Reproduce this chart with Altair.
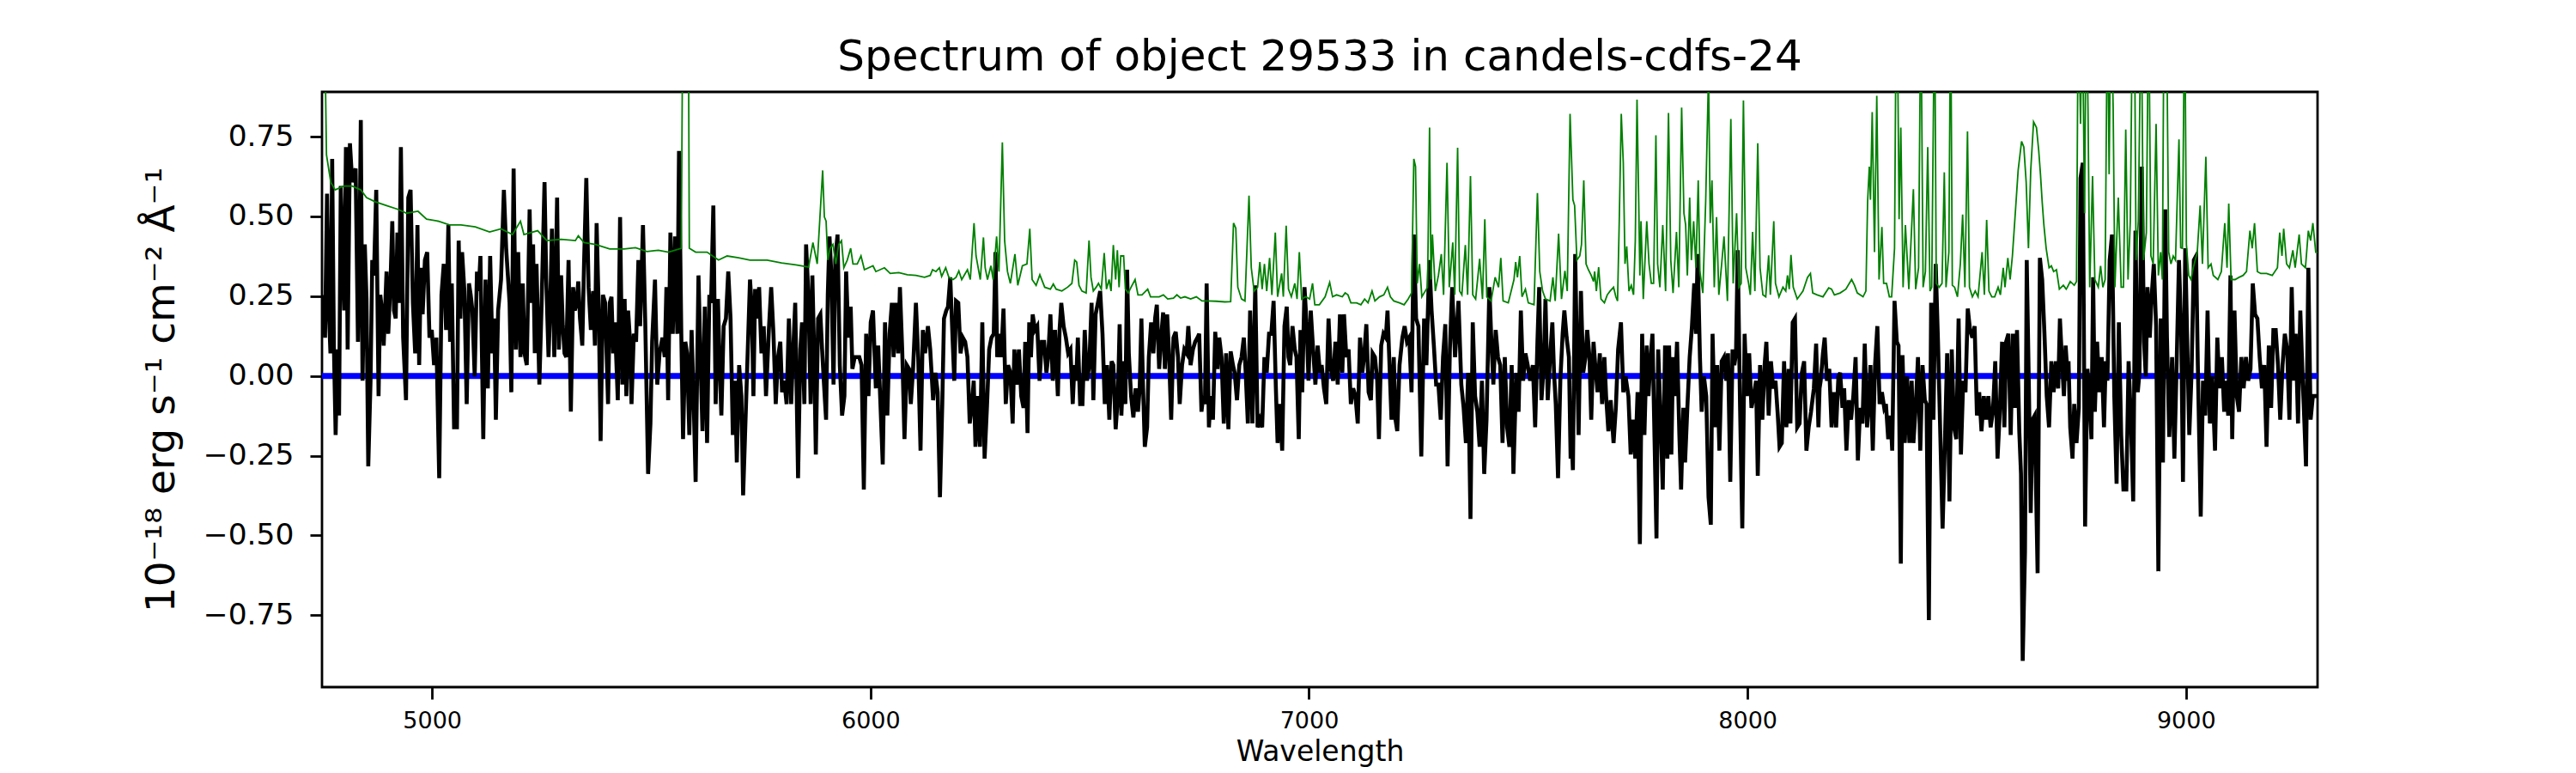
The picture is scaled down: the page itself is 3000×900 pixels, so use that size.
import altair as alt
import pandas as pd

# ---- data (wavelength in Angstrom, flux in 1e-18 erg/s/cm2/A) ----
spec_wave = [
    4751.3, 4755.9, 4760.5, 4764.4, 4768.3, 4772.2, 4776.1, 4780.1, 4784.0, 4787.9,
    4791.8, 4795.7, 4799.6, 4803.6, 4807.5, 4812.7, 4817.9, 4821.8, 4825.7, 4831.0,
    4834.9, 4837.5, 4841.4, 4846.6, 4850.5, 4854.5, 4859.7, 4863.6, 4867.5, 4872.7,
    4878.0, 4881.9, 4885.8, 4889.7, 4896.2, 4900.1, 4905.4, 4909.3, 4913.2, 4917.1,
    4921.0, 4925.0, 4928.9, 4934.1, 4940.6, 4945.8, 4951.0, 4956.3, 4961.5, 4966.7,
    4970.6, 4974.5, 4978.5, 4983.7, 4988.9, 4994.1, 4999.3, 5004.6, 5009.8, 5016.3,
    5021.5, 5026.7, 5032.0, 5037.2, 5041.1, 5045.0, 5050.2, 5056.8, 5060.7, 5064.6,
    5068.5, 5073.7, 5079.0, 5084.2, 5088.1, 5092.0, 5097.2, 5102.4, 5106.4, 5110.3,
    5116.8, 5122.0, 5127.2, 5132.5, 5137.7, 5141.6, 5145.5, 5150.7, 5157.3, 5163.8,
    5169.0, 5172.9, 5176.8, 5180.8, 5186.0, 5191.2, 5196.4, 5201.6, 5206.9, 5210.8,
    5216.0, 5222.5, 5226.4, 5230.4, 5234.3, 5238.2, 5244.7, 5249.9, 5256.5, 5260.4,
    5265.6, 5269.5, 5273.4, 5278.7, 5285.2, 5289.1, 5294.3, 5298.2, 5302.1, 5306.1,
    5311.3, 5316.5, 5321.7, 5325.6,
    5329.6, 5333.5, 5337.4, 5342.6, 5346.6, 5351.8, 5357.0, 5362.2, 5367.4, 5371.4,
    5375.3, 5380.5, 5384.4, 5389.6, 5394.8, 5401.4, 5405.3, 5409.2, 5413.1, 5417.0,
    5423.6, 5428.8, 5434.0, 5439.2, 5443.1, 5447.1, 5451.0, 5454.9, 5460.1, 5465.3,
    5470.6, 5474.5, 5481.0, 5486.2, 5492.7, 5498.0, 5501.9, 5508.4, 5513.6, 5518.8,
    5525.4, 5530.6, 5534.5, 5538.4, 5543.6, 5548.9, 5554.1, 5559.3, 5563.2, 5568.4,
    5572.4, 5577.6, 5581.5, 5586.7, 5591.9, 5597.2, 5601.1, 5607.6, 5612.8, 5616.7,
    5622.0, 5627.2, 5632.4, 5636.3, 5641.5, 5646.8, 5652.0, 5655.9, 5659.8, 5665.0,
    5670.2, 5675.5, 5680.7, 5685.9, 5691.1, 5695.0, 5700.3, 5705.5, 5709.4, 5717.2,
    5725.1, 5729.0, 5732.9, 5736.8, 5742.0, 5745.9, 5751.2, 5756.4, 5761.6, 5768.1,
    5773.4, 5778.6, 5783.8, 5789.0, 5794.2, 5798.2, 5803.4, 5808.6, 5813.8, 5819.0,
    5823.0, 5828.2, 5834.7, 5839.9, 5843.8, 5849.1, 5853.0, 5858.2, 5863.4, 5867.3,
    5871.2, 5875.2, 5880.4, 5885.6, 5889.5, 5893.4,
    5898.6, 5902.5, 5906.4, 5910.3, 5915.6, 5919.5, 5924.7, 5929.9, 5935.1, 5940.4,
    5944.3, 5949.5, 5954.7, 5958.6, 5963.9, 5969.1, 5974.3, 5979.5, 5984.7, 5990.0,
    5995.2, 6000.4, 6005.6, 6012.1, 6017.4, 6022.6, 6027.8, 6033.0, 6038.3, 6043.5,
    6048.7, 6052.6, 6057.8, 6063.0, 6067.0, 6072.2, 6077.4, 6082.6, 6087.8, 6091.8,
    6097.0, 6103.5, 6108.7, 6114.0, 6119.2, 6124.4, 6130.9, 6136.1, 6142.7, 6147.9,
    6153.1, 6158.3, 6163.6, 6167.5, 6172.7, 6176.6, 6181.8, 6187.0, 6191.0, 6194.9,
    6200.1, 6205.3, 6210.5, 6215.8, 6221.0, 6226.2, 6231.4, 6235.3, 6239.3, 6244.5,
    6249.7, 6254.9, 6260.1, 6265.4, 6270.6, 6275.8, 6281.0, 6284.9, 6288.9, 6292.8,
    6298.0, 6303.2, 6308.4, 6313.7, 6318.9, 6324.1, 6328.0, 6333.2, 6338.4, 6343.7,
    6348.9, 6352.8, 6358.0, 6361.9, 6365.8, 6369.8, 6375.0, 6380.2, 6385.4, 6390.7,
    6395.9, 6401.1, 6405.0, 6410.2, 6415.5, 6420.7, 6427.2, 6431.1, 6435.0, 6440.3,
    6445.5, 6450.7, 6455.9, 6461.1,
    6465.0, 6468.9, 6472.8, 6478.0, 6483.3, 6488.5, 6493.7, 6498.9, 6504.1, 6508.1,
    6513.3, 6518.5, 6523.7, 6529.0, 6534.2, 6539.4, 6544.6, 6549.8, 6553.7, 6559.0,
    6564.2, 6568.1, 6572.0, 6577.2, 6581.2, 6585.1, 6589.0, 6594.2, 6599.4, 6604.6,
    6609.9, 6613.8, 6617.7, 6621.6, 6625.5, 6630.7, 6634.7, 6639.9, 6645.1, 6649.0,
    6652.9, 6658.2, 6663.4, 6667.3, 6671.2, 6676.4, 6680.3, 6685.6, 6690.8, 6696.0,
    6701.2, 6705.1, 6710.4, 6715.6, 6720.8, 6724.7, 6729.9, 6735.2, 6740.4, 6745.6,
    6749.5, 6754.7, 6758.7, 6762.6, 6766.5, 6771.7, 6775.6, 6780.9, 6786.1, 6791.3,
    6795.2, 6800.4, 6805.6, 6810.9, 6816.1, 6821.3, 6826.5, 6830.4, 6835.7, 6840.9,
    6846.1, 6851.3, 6855.2, 6860.5, 6865.7, 6870.9, 6877.4, 6882.7, 6887.9, 6893.1,
    6898.3, 6903.5, 6908.8, 6914.0, 6919.2, 6924.4, 6928.3, 6933.6, 6938.8, 6944.0,
    6949.2, 6953.1, 6957.0, 6962.3, 6967.5, 6971.4, 6976.6, 6980.5, 6984.5, 6989.7,
    6994.9, 6998.8, 7004.0, 7009.3, 7014.5, 7019.7, 7024.9, 7028.8,
    7034.1, 7039.3, 7044.5, 7049.8, 7055.0, 7060.2, 7065.4, 7070.6, 7075.9, 7079.8,
    7085.0, 7090.2, 7095.4, 7100.7, 7105.9, 7111.1, 7116.3, 7121.5, 7125.5, 7130.7,
    7135.9, 7141.1, 7145.0, 7150.3, 7155.5, 7159.4, 7164.6, 7169.8, 7175.1, 7179.0,
    7182.9, 7188.1, 7193.3, 7197.2, 7201.2, 7206.4, 7212.9, 7218.1, 7223.4, 7228.6,
    7233.8, 7239.0, 7244.2, 7249.5, 7256.0, 7262.5, 7267.7, 7274.3, 7279.5, 7284.7,
    7289.9, 7295.1, 7300.4, 7305.6, 7310.8, 7316.0, 7321.2, 7326.5, 7333.0, 7340.8,
    7347.3, 7352.6, 7357.8, 7363.0, 7368.2, 7373.4, 7378.7, 7383.9, 7389.1, 7394.3,
    7399.5, 7404.8, 7411.3, 7415.2, 7420.4, 7425.7, 7430.9, 7436.1, 7441.3, 7446.5,
    7451.8, 7457.0, 7462.2, 7466.1, 7472.6, 7477.9, 7483.1, 7488.3, 7493.5, 7498.7,
    7504.0, 7510.5, 7515.7, 7520.9, 7524.9, 7530.1, 7535.3, 7539.2, 7544.4, 7549.7,
    7554.9, 7558.8, 7562.7, 7567.9, 7573.1, 7578.4, 7582.3, 7587.5, 7592.7, 7596.6,
    7597.9, 7601.8, 7607.0, 7610.9, 7614.8, 7620.1, 7625.3, 7630.5, 7634.4, 7639.6,
    7643.6, 7648.8, 7652.7, 7657.9, 7663.1, 7668.4, 7673.6, 7677.5, 7682.7, 7687.9,
    7694.5, 7699.7, 7704.9, 7711.4, 7716.7, 7721.9, 7728.4, 7733.6, 7738.8, 7744.1,
    7749.3, 7754.5, 7759.7, 7764.9, 7770.2, 7774.1, 7778.0, 7783.2, 7787.1, 7792.4,
    7796.3, 7801.5, 7806.7, 7812.0, 7817.2, 7821.1, 7826.3, 7830.2, 7834.1, 7839.3,
    7844.6, 7848.5, 7853.7, 7857.6, 7862.8, 7868.1, 7873.3, 7878.5, 7882.4, 7886.3,
    7891.5, 7895.5, 7900.7, 7905.9, 7911.1, 7916.3, 7920.3, 7925.5, 7930.7, 7935.9,
    7941.1, 7946.4, 7951.6, 7955.5, 7960.7, 7965.9, 7969.9, 7973.8, 7977.7, 7982.9,
    7988.1, 7993.4, 7998.6, 8003.8, 8009.0, 8014.2, 8019.5, 8023.4, 8028.6, 8033.8,
    8039.0, 8043.0, 8048.2, 8053.4, 8058.6, 8063.8, 8069.1, 8073.0, 8078.2, 8083.4,
    8088.6, 8093.9, 8097.8, 8103.0, 8108.2, 8113.4, 8118.7, 8123.9, 8129.1, 8134.3,
    8139.5, 8144.8, 8151.3, 8156.5, 8161.7, 8164.3,
    8166.9, 8172.1, 8176.0, 8181.2, 8186.5, 8191.7, 8196.9, 8202.1, 8207.3, 8211.3,
    8216.5, 8220.4, 8225.6, 8230.8, 8236.1, 8241.3, 8246.5, 8251.7, 8256.9, 8262.2,
    8267.4, 8272.6, 8276.5, 8280.4, 8285.7, 8290.9, 8296.1, 8301.3, 8306.5, 8311.8,
    8315.7, 8320.9, 8326.1, 8330.0, 8335.3, 8340.5, 8344.4, 8349.6, 8353.5, 8358.7,
    8364.0, 8369.2, 8374.4, 8378.3, 8383.5, 8388.8, 8394.0, 8399.2, 8404.4, 8408.3,
    8413.6, 8418.8, 8424.0, 8429.2, 8434.4, 8439.7, 8444.9, 8450.1, 8455.3, 8460.5,
    8465.8, 8471.0, 8476.2, 8481.4, 8486.7, 8491.9, 8497.1, 8502.3, 8507.5, 8512.8,
    8518.0, 8523.2, 8528.4, 8533.6, 8538.9, 8544.1, 8549.3, 8554.5, 8559.7, 8565.0,
    8570.2, 8575.4, 8580.6, 8585.8, 8589.8, 8595.0, 8600.2, 8605.4, 8610.7, 8614.6,
    8619.8, 8623.7, 8627.6, 8632.8, 8636.8, 8642.0, 8645.9, 8649.8, 8655.0, 8661.6,
    8666.8, 8672.0, 8677.2, 8682.4, 8687.7, 8692.9, 8698.1, 8703.3, 8708.5, 8712.5,
    8717.7, 8721.6, 8725.5, 8730.7,
    8732.1, 8736.0, 8741.2, 8745.1, 8750.3, 8755.6, 8759.5, 8764.7, 8769.9, 8775.1,
    8779.1, 8784.3, 8788.2, 8792.1, 8797.3, 8802.6, 8807.8, 8813.0, 8816.9, 8820.8,
    8826.0, 8831.3, 8836.5, 8841.7, 8846.9, 8852.2, 8857.4, 8863.9, 8869.1, 8874.3,
    8879.6, 8884.8, 8890.0, 8893.9, 8899.1, 8904.4, 8908.3, 8912.2, 8917.4, 8921.3,
    8926.6, 8931.8, 8937.0, 8942.2, 8947.4, 8952.7, 8956.6, 8961.8, 8968.3, 8973.5,
    8978.8, 8984.0, 8989.2, 8993.1, 8998.3, 9003.6, 9007.5, 9012.7, 9017.9, 9023.1,
    9027.0, 9033.6, 9038.8, 9044.0, 9049.2, 9054.5, 9059.7, 9066.2, 9071.4, 9076.6,
    9081.9, 9087.1, 9092.3, 9096.2, 9101.4, 9105.4, 9110.6, 9115.8, 9121.0, 9126.2,
    9131.5, 9136.7, 9141.9, 9147.1, 9152.3, 9157.6, 9162.8, 9168.0, 9173.2, 9178.5,
    9183.7, 9188.9, 9194.1, 9199.3, 9204.6, 9209.8, 9215.0, 9220.2, 9225.4, 9230.7,
    9235.9, 9241.1, 9246.3, 9250.2, 9255.5, 9260.7, 9265.9, 9269.8, 9273.7, 9279.0,
    9284.2, 9289.4, 9294.6, 9299.8,
]

spec_flux = [
    0.254, 0.120, 0.571, 0.211, 0.071, 0.680, 0.095, -0.185, 0.083, -0.124,
    0.595, 0.400, 0.205, 0.717, 0.083, 0.729, 0.607, 0.632, 0.650, 0.107,
    0.437, 0.802, -0.015, 0.412, 0.241, -0.283, -0.015, 0.363, 0.315, 0.583,
    -0.063, 0.254, 0.205, 0.095, 0.327, 0.132, 0.302, 0.485, 0.205, 0.180,
    0.449, 0.229, 0.717, 0.120, -0.076, 0.559, 0.583, 0.229, 0.071, 0.473,
    0.034, 0.339, 0.193, 0.363, 0.388, 0.120, 0.144, 0.034, 0.120, -0.320,
    0.254, 0.351, 0.144, 0.473, 0.107, 0.290, -0.161, -0.161, 0.424, 0.180,
    0.388, 0.266, -0.088, 0.290, 0.254, 0.205, -0.002, 0.327, 0.266, 0.376,
    -0.198, 0.302, -0.039, 0.376, 0.071, 0.180, -0.137, 0.205, 0.302, 0.583,
    0.400, 0.315, 0.229, -0.051, 0.650, 0.083, 0.388, 0.059, 0.290, 0.071,
    0.034, 0.522, 0.229, 0.412, 0.071, 0.351, -0.027, 0.229, 0.607, 0.302,
    0.059, 0.217, 0.461, 0.059, 0.559, 0.083, 0.315, 0.156, 0.071, 0.059,
    0.363, -0.112, 0.278, 0.205,
    0.229, 0.296, 0.180, 0.095, 0.351, 0.620, 0.278, 0.144, 0.266, 0.095,
    0.479, 0.180, -0.204, 0.254, 0.229, -0.088, 0.229, 0.248, 0.071, 0.168,
    -0.076, 0.498, -0.027, 0.241, -0.063, 0.205, 0.120, -0.088, 0.132, 0.107,
    0.363, 0.156, 0.473, 0.168, -0.307, -0.149, 0.107, 0.302, -0.027, 0.071,
    0.120, 0.059, 0.278, -0.076, 0.449, 0.132, 0.437, 0.132, 0.705, 0.132,
    -0.198, 0.107, 0.071, -0.185, 0.144, -0.112, -0.332, 0.315, 0.022, -0.173,
    0.217, -0.210, 0.254, 0.229, 0.534, -0.088, 0.241, 0.034, -0.124, 0.156,
    0.180, 0.327, 0.180, -0.185, -0.015, -0.271, 0.034, -0.063, -0.374, -0.039,
    0.302, 0.217, -0.063, 0.272, 0.180, 0.278, 0.071, 0.156, -0.063, 0.144,
    0.278, 0.132, -0.088, 0.059, 0.107, -0.051, -0.015, -0.088, 0.180, -0.088,
    0.059, 0.229, -0.320, 0.083, 0.168, -0.088, 0.412, 0.254, -0.088, 0.315,
    0.083, -0.246, 0.180, 0.193, 0.083, -0.015,
    -0.137, 0.254, 0.437, 0.327, -0.027, 0.363, 0.443, 0.034, -0.124, -0.063,
    0.327, 0.120, 0.217, 0.022, 0.059, 0.059, 0.059, 0.034, -0.356, 0.132,
    -0.063, 0.168, 0.205, -0.039, 0.095, -0.088, -0.277, 0.168, -0.124, 0.132,
    0.229, 0.059, 0.229, 0.071, 0.278, 0.083, -0.198, 0.034, 0.022, -0.088,
    0.022, 0.229, 0.059, -0.234, 0.144, 0.071, 0.156, 0.083, -0.076, 0.010,
    -0.051, -0.380, -0.088, 0.180, 0.205, 0.217, 0.309, 0.120, -0.015, 0.235,
    0.229, 0.071, 0.120, 0.107, 0.059, -0.149, -0.088, -0.015, -0.222, -0.063,
    -0.222, 0.168, -0.259, -0.100, 0.083, 0.120, 0.132, 0.388, 0.059, 0.132,
    0.059, 0.211, -0.088, 0.034, 0.010, -0.149, 0.083, -0.027, 0.083, -0.063,
    -0.100, 0.107, -0.179, 0.168, 0.059, 0.193, 0.144, 0.156, -0.015, 0.107,
    0.107, 0.010, 0.059, 0.193, -0.015, 0.144, -0.063, 0.144, 0.229, 0.156,
    0.120, 0.071, 0.083, -0.088,
    0.034, -0.015, 0.120, -0.088, -0.088, 0.144, -0.015, 0.034, 0.229, -0.076,
    0.193, 0.229, 0.266, 0.132, -0.088, 0.034, -0.137, 0.046, 0.034, -0.167,
    -0.063, 0.162, -0.124, 0.046, -0.088, 0.333, 0.071, -0.063, -0.130, -0.039,
    -0.112, -0.039, 0.180, -0.039, -0.222, -0.161, 0.059, 0.168, 0.071, 0.180,
    0.223, 0.022, 0.132, 0.199, 0.022, 0.193, 0.083, -0.137, 0.120, 0.138,
    0.059, -0.088, 0.034, 0.083, 0.071, 0.156, 0.034, 0.083, 0.107, 0.120,
    0.132, -0.112, -0.063, -0.088, 0.290, -0.161, -0.063, -0.137, 0.138, 0.022,
    0.120, 0.059, -0.149, 0.071, -0.167, 0.077, 0.034, 0.010, -0.076, 0.034,
    0.059, 0.120, 0.022, -0.149, 0.205, -0.149, 0.284, -0.161, -0.137, -0.161,
    0.059, 0.010, 0.132, 0.132, 0.235, -0.039, -0.210, -0.088, -0.234, 0.156,
    0.217, 0.059, 0.034, 0.156, 0.083, 0.059, -0.198, 0.144, -0.051, 0.278,
    0.150, -0.015, 0.205, 0.083, -0.027, 0.095, 0.010, 0.034,
    -0.039, -0.088, 0.180, 0.022, -0.015, 0.107, -0.027, 0.193, 0.010, 0.193,
    0.059, 0.083, -0.088, -0.039, -0.063, -0.149, 0.120, 0.010, 0.059, 0.162,
    -0.051, -0.076, 0.071, 0.059, -0.015, -0.198, 0.095, 0.132, 0.120, 0.205,
    0.059, -0.137, 0.059, -0.137, -0.173, 0.034, 0.120, 0.156, 0.107, 0.120,
    -0.051, 0.443, 0.180, 0.156, -0.252, 0.180, 0.034, 0.363, 0.205, 0.095,
    -0.027, -0.027, -0.137, 0.059, 0.162, -0.283, 0.083, 0.278, 0.059, 0.235,
    -0.027, -0.100, -0.210, 0.010, -0.448, 0.168, -0.063, -0.112, -0.222, -0.015,
    -0.307, -0.137, 0.278, 0.132, -0.027, 0.144, 0.059, 0.034, -0.210, 0.059,
    -0.161, -0.222, 0.034, -0.307, 0.010, -0.112, 0.205, -0.015, 0.071, 0.034,
    -0.015, 0.034, -0.161, 0.107, 0.278, -0.076, 0.034, 0.241, -0.076, 0.059,
    0.168, 0.010, -0.088, -0.320, -0.015, 0.132, 0.205, 0.120, 0.059, -0.259,
    -0.161, -0.295, 0.382, 0.083, -0.185, 0.266, 0.010, 0.059, 0.144, 0.059,
    -0.137, 0.107, 0.034, -0.051, 0.071, -0.088, 0.059, -0.063, -0.173, -0.076,
    -0.210, -0.100, 0.083, 0.168, -0.051, -0.002, -0.063, -0.246, -0.137, -0.259,
    -0.051, -0.527, 0.132, -0.185, 0.095, -0.063, 0.034, 0.132, -0.137, -0.509,
    0.083, -0.124, -0.356, 0.095, -0.259, 0.095, -0.246, 0.059, -0.063, 0.107,
    -0.185, -0.356, -0.100, -0.271, -0.100, 0.059, 0.156, 0.290, 0.132, 0.382,
    0.059, -0.112, -0.002, -0.063, -0.380, -0.466, 0.132, -0.161, 0.034, -0.234,
    0.046, 0.059, -0.015, 0.071, -0.332, 0.083, 0.034, 0.071, 0.394, -0.088,
    -0.478, 0.132, -0.063, 0.071, -0.100, -0.063, -0.015, -0.313, 0.034, -0.137,
    0.034, 0.107, -0.124, 0.046, -0.039, -0.015, -0.124, -0.222, -0.210, 0.046,
    -0.161, 0.022, -0.149, 0.168, 0.180, -0.161, -0.149, 0.010, 0.046, -0.234,
    -0.161, -0.112, -0.039, 0.101, -0.161, -0.039,
    -0.015, 0.071, 0.120, -0.015, 0.022, -0.161, -0.051, -0.161, -0.002, 0.010,
    -0.100, -0.039, -0.234, -0.076, -0.137, -0.063, 0.059, -0.265, -0.100, -0.149,
    0.101, -0.161, -0.088, 0.034, -0.234, 0.034, 0.156, -0.088, -0.051, -0.100,
    -0.088, -0.198, -0.124, -0.234, 0.235, 0.107, 0.095, -0.588, 0.065, -0.210,
    -0.002, -0.210, -0.015, -0.210, -0.100, 0.059, -0.234, 0.034, -0.076, -0.088,
    -0.765, 0.229, -0.137, 0.351, 0.107, -0.185, -0.478, -0.210, 0.071, -0.393,
    0.083, -0.161, -0.198, 0.180, -0.246, -0.015, -0.051, 0.211, 0.144, 0.120,
    0.156, -0.124, -0.051, -0.173, -0.063, -0.137, -0.063, -0.161, -0.112, 0.046,
    -0.259, -0.112, 0.107, -0.161, 0.107, 0.132, -0.185, 0.132, -0.100, 0.144,
    -0.173, -0.307, -0.893, -0.551, 0.363, -0.063, -0.429, -0.137, -0.124, -0.618,
    0.370, 0.302, 0.132, -0.063, -0.161, 0.046, -0.051, 0.046, -0.039, 0.180,
    0.034, -0.063, 0.095, -0.015,
    0.046, -0.161, -0.259, -0.088, -0.210, -0.100, 0.620, 0.668, -0.472, 0.022,
    -0.039, -0.198, 0.309, -0.112, 0.107, -0.051, 0.059, -0.161, 0.046, -0.015,
    0.363, 0.443, -0.063, -0.338, 0.168, -0.185, -0.356, -0.356, 0.046, -0.137,
    -0.393, 0.455, -0.051, 0.010, 0.656, 0.107, -0.002, 0.278, 0.120, 0.241,
    0.351, 0.156, -0.612, 0.180, -0.271, 0.522, 0.120, -0.191, 0.059, -0.259,
    0.046, 0.363, 0.132, -0.332, 0.400, 0.059, -0.185, 0.010, 0.363, 0.376,
    0.034, -0.441, -0.015, -0.124, 0.205, -0.149, -0.002, -0.234, 0.120, -0.039,
    0.059, -0.112, -0.015, -0.124, 0.315, -0.198, 0.205, -0.063, -0.112, 0.059,
    -0.039, 0.059, -0.015, 0.022, 0.290, 0.193, 0.180, 0.059, -0.039, 0.034,
    -0.222, 0.095, -0.100, 0.144, 0.144, 0.034, -0.137, 0.034, 0.132, 0.083,
    -0.137, 0.278, -0.015, 0.132, -0.149, 0.205, -0.002, -0.137, -0.283, 0.339,
    -0.137, -0.063, -0.063, -0.063,
]

contam_wave = [
    4751.0, 4759.2, 4769.0, 4778.8, 4798.3, 4817.9, 4837.5, 4850.5, 4870.1, 4896.2,
    4922.3, 4941.9, 4968.0, 4987.6, 5013.7, 5039.8, 5065.9, 5098.5, 5131.2, 5157.3,
    5183.4, 5201.6, 5209.5, 5240.8, 5261.7, 5294.3, 5326.9,
    5333.5, 5346.6, 5372.7, 5405.3, 5437.9, 5464.0, 5490.1, 5516.2, 5539.1, 5568.4,
    5572.4, 5584.1, 5586.7, 5601.1, 5627.2, 5653.3, 5672.9, 5699.0, 5725.1, 5764.2,
    5796.9, 5829.5, 5858.8, 5868.6, 5878.4,
    5890.8, 5894.7, 5898.6, 5902.5, 5907.7, 5914.3, 5920.8, 5927.3, 5933.8, 5939.1,
    5946.9, 5954.7, 5960.0, 5969.7, 5978.2, 5986.0, 6005.6, 6012.1, 6031.7, 6044.8,
    6064.4, 6083.9, 6103.5, 6123.1, 6136.1, 6141.4, 6149.2, 6157.0, 6162.2, 6171.4,
    6178.6, 6188.3, 6194.9, 6201.4, 6207.9, 6221.0, 6227.5, 6236.0, 6240.6, 6250.3,
    6257.5, 6261.4, 6266.7, 6274.5, 6279.7, 6287.5, 6292.8, 6300.6, 6305.8, 6312.3,
    6318.9, 6329.3, 6335.8, 6346.3, 6356.7, 6363.2, 6368.5, 6377.6, 6386.1, 6397.2,
    6410.2, 6416.8, 6423.3, 6436.3, 6449.4, 6459.2,
    6465.6, 6470.2, 6475.4, 6482.0, 6491.7, 6498.3, 6502.8, 6508.1, 6514.6, 6519.8,
    6526.3, 6532.9, 6538.1, 6544.0, 6548.5, 6553.7, 6559.0, 6562.9, 6566.8, 6570.7,
    6577.2, 6581.2, 6587.7, 6594.2, 6603.3, 6609.9, 6619.0, 6632.1, 6638.6, 6658.2,
    6667.9, 6677.7, 6690.8, 6698.6, 6707.1, 6716.9, 6730.0, 6743.0, 6756.0, 6769.1,
    6788.7, 6808.3, 6821.3, 6827.8, 6833.0, 6837.6, 6846.1, 6853.9, 6863.1, 6868.3,
    6874.8, 6882.7, 6887.9, 6893.1, 6898.3, 6903.5, 6910.1, 6915.3, 6923.1, 6928.3,
    6937.5, 6941.4, 6947.9, 6953.1, 6959.7, 6967.5, 6972.7, 6977.9, 6983.2, 6992.3,
    7001.4, 7008.0, 7013.2, 7023.6,
    7036.7, 7047.1, 7053.7, 7062.8, 7075.9, 7082.4, 7088.9, 7095.4, 7108.5, 7118.3,
    7126.8, 7134.6, 7143.7, 7150.3, 7160.7, 7170.5, 7179.0, 7185.5, 7193.3, 7206.4,
    7216.8, 7226.0, 7233.8, 7239.0, 7242.9, 7246.8, 7252.1, 7257.3, 7265.1, 7270.3,
    7274.9, 7278.2, 7281.4, 7288.0, 7295.1, 7301.7, 7306.9, 7314.7, 7319.9, 7327.8,
    7332.3, 7338.9, 7343.4, 7348.6, 7356.5, 7361.7, 7368.2, 7373.4, 7380.0, 7389.1,
    7395.6, 7400.9, 7405.4, 7415.2, 7424.4, 7432.2, 7437.4, 7442.6, 7454.4, 7467.4,
    7471.3, 7475.3, 7480.5, 7485.7, 7493.5, 7500.1, 7513.1, 7520.9, 7526.2, 7532.7,
    7539.2, 7549.7, 7556.2, 7561.4, 7569.2, 7575.8, 7583.6, 7588.9, 7595.3,
    7601.8, 7605.7, 7610.9, 7617.5, 7621.4, 7626.6, 7631.8, 7637.0, 7643.6, 7648.8,
    7651.4, 7655.3, 7660.5, 7665.8, 7673.6, 7680.1, 7686.6, 7694.5, 7699.7, 7703.6,
    7707.5, 7712.1, 7716.7, 7720.6, 7724.5, 7729.7, 7734.9, 7740.1, 7744.1, 7748.0,
    7751.9, 7754.5, 7757.1, 7762.3, 7770.2, 7775.4, 7780.6, 7785.8, 7791.1, 7795.0,
    7800.2, 7806.7, 7813.2, 7819.8, 7825.0, 7830.2, 7838.0, 7843.3, 7849.8, 7855.0,
    7858.9, 7862.8, 7868.1, 7872.0, 7877.2, 7882.4, 7887.6, 7891.5, 7898.1, 7904.6,
    7911.1, 7915.0, 7919.0, 7924.2, 7929.4, 7934.6, 7941.1, 7946.4, 7954.2, 7962.0,
    7967.3, 7975.1, 7980.3, 7985.5, 7990.7, 7996.0, 8002.5, 8006.4, 8011.6, 8016.8,
    8023.4, 8028.6, 8035.1, 8041.6, 8048.2, 8052.1, 8059.9, 8063.8, 8071.7, 8080.8,
    8087.3, 8091.2, 8095.2, 8099.1, 8104.3, 8113.4, 8126.5, 8136.9, 8143.5, 8148.7,
    8159.1,
    8172.1, 8185.2, 8191.7, 8198.2, 8211.3, 8224.3, 8237.4, 8243.9, 8250.4, 8263.5,
    8270.0, 8273.9, 8277.8, 8280.4, 8284.4, 8289.6, 8294.8, 8300.0, 8306.5, 8310.5,
    8317.0, 8323.5, 8328.7, 8335.3, 8339.2, 8341.8, 8345.7, 8349.6, 8354.8, 8360.1,
    8367.9, 8378.3, 8383.5, 8390.1, 8395.3, 8400.5, 8405.7, 8411.0, 8416.2, 8420.1,
    8426.6, 8430.5, 8437.1, 8443.6, 8448.8, 8452.7, 8459.2, 8463.2, 8467.1, 8472.3,
    8478.8, 8485.4, 8490.6, 8495.8, 8501.7, 8506.2, 8512.8, 8519.3, 8525.8, 8535.0,
    8540.2, 8545.4, 8550.6, 8557.1, 8563.7, 8571.5, 8576.7, 8583.2, 8587.2, 8593.7,
    8598.9, 8604.1, 8610.7, 8617.2, 8625.0, 8630.2, 8635.5, 8640.7, 8645.9, 8652.4,
    8659.0, 8664.2, 8668.1, 8672.0, 8675.9, 8681.1, 8687.7, 8692.9, 8698.1, 8704.6,
    8711.2, 8720.3, 8726.8,
    8729.5, 8736.0, 8745.1, 8750.3, 8754.3, 8759.5, 8763.4, 8768.6, 8772.5, 8776.5,
    8780.4, 8786.9, 8792.1, 8800.0, 8805.2, 8810.4, 8815.6, 8820.8, 8824.7, 8828.7,
    8833.9, 8837.8, 8845.6, 8852.2, 8857.4, 8862.6, 8867.8, 8873.0, 8878.3, 8882.2,
    8886.1, 8891.3, 8897.8, 8903.1, 8909.6, 8914.8, 8920.0, 8925.2, 8931.8, 8937.0,
    8942.2, 8946.1, 8950.0, 8955.3, 8960.5, 8965.7, 8970.9, 8976.1, 8984.0, 8987.9,
    8991.8, 8997.0, 9000.9, 9006.2, 9011.4, 9016.6, 9025.7, 9032.3, 9037.5, 9045.3,
    9050.5, 9057.1, 9062.3, 9072.7, 9080.6, 9088.4, 9093.6, 9097.5, 9102.8, 9111.9,
    9121.0, 9130.2, 9138.0, 9145.8, 9151.0, 9156.3, 9162.8, 9170.6, 9183.7, 9196.7,
    9208.5, 9213.7, 9218.9, 9222.8, 9229.4, 9235.9, 9243.7, 9249.0, 9258.1, 9263.3,
    9272.4, 9279.0, 9284.2, 9289.4, 9295.9, 9301.1,
]

contam_flux = [
    1.500, 0.693, 0.607, 0.583, 0.595, 0.595, 0.583, 0.559, 0.546, 0.534,
    0.522, 0.510, 0.516, 0.491, 0.485, 0.473, 0.473, 0.467, 0.451, 0.461,
    0.443, 0.485, 0.443, 0.455, 0.424, 0.428, 0.424,
    0.439, 0.418, 0.412, 0.398, 0.398, 0.402, 0.390, 0.394, 0.388, 0.400,
    1.300, 1.300, 0.400, 0.388, 0.388, 0.363, 0.376, 0.370, 0.363, 0.363,
    0.354, 0.348, 0.341, 0.418, 0.351,
    0.644, 0.498, 0.485, 0.363, 0.400, 0.412, 0.351, 0.412, 0.424, 0.339,
    0.363, 0.400, 0.351, 0.351, 0.376, 0.333, 0.345, 0.327, 0.339, 0.321,
    0.324, 0.317, 0.315, 0.309, 0.315, 0.333, 0.327, 0.339, 0.312, 0.339,
    0.309, 0.302, 0.309, 0.329, 0.302, 0.333, 0.302, 0.479, 0.376, 0.302,
    0.434, 0.339, 0.302, 0.345, 0.302, 0.437, 0.327, 0.732, 0.424, 0.327,
    0.290, 0.382, 0.284, 0.345, 0.351, 0.461, 0.302, 0.284, 0.317, 0.278,
    0.272, 0.288, 0.272, 0.266, 0.278, 0.290,
    0.363, 0.357, 0.284, 0.266, 0.260, 0.424, 0.309, 0.266, 0.278, 0.290,
    0.272, 0.385, 0.272, 0.302, 0.266, 0.410, 0.302, 0.394, 0.278, 0.376,
    0.376, 0.272, 0.260, 0.278, 0.302, 0.254, 0.254, 0.272, 0.248, 0.248,
    0.254, 0.241, 0.244, 0.254, 0.244, 0.248, 0.241, 0.248, 0.235, 0.235,
    0.234, 0.232, 0.233, 0.479, 0.463, 0.278, 0.241, 0.235, 0.565, 0.339,
    0.266, 0.278, 0.357, 0.272, 0.351, 0.266, 0.370, 0.254, 0.449, 0.248,
    0.321, 0.248, 0.471, 0.272, 0.248, 0.290, 0.241, 0.388, 0.241, 0.248,
    0.241, 0.290, 0.223, 0.223,
    0.248, 0.293, 0.248, 0.254, 0.248, 0.260, 0.254, 0.229, 0.229, 0.223,
    0.241, 0.229, 0.266, 0.235, 0.248, 0.254, 0.278, 0.248, 0.235, 0.229,
    0.223, 0.241, 0.260, 0.680, 0.656, 0.290, 0.351, 0.248, 0.266, 0.278,
    0.778, 0.302, 0.443, 0.266, 0.315, 0.382, 0.254, 0.668, 0.278, 0.418,
    0.254, 0.715, 0.266, 0.254, 0.410, 0.254, 0.626, 0.254, 0.241, 0.367,
    0.241, 0.491, 0.248, 0.235, 0.309, 0.278, 0.370, 0.235, 0.229, 0.302,
    0.357, 0.309, 0.376, 0.248, 0.272, 0.229, 0.223, 0.573, 0.327, 0.266,
    0.241, 0.235, 0.309, 0.235, 0.446, 0.241, 0.329, 0.266, 0.821,
    0.552, 0.534, 0.363, 0.376, 0.412, 0.613, 0.351, 0.333, 0.315, 0.296,
    0.327, 0.266, 0.341, 0.241, 0.229, 0.254, 0.266, 0.278, 0.248, 0.235,
    0.485, 0.821, 0.668, 0.351, 0.406, 0.266, 0.284, 0.254, 0.424, 0.866,
    0.546, 0.315, 0.485, 0.241, 0.485, 0.351, 0.290, 0.290, 0.754, 0.351,
    0.278, 0.473, 0.266, 0.824, 0.363, 0.260, 0.451, 0.278, 0.841, 0.510,
    0.473, 0.315, 0.559, 0.363, 0.485, 0.339, 0.613, 0.327, 0.260, 0.546,
    0.950, 0.479, 0.613, 0.278, 0.498, 0.254, 0.351, 0.437, 0.235, 0.805,
    0.290, 0.510, 0.278, 0.290, 0.863, 0.339, 0.290, 0.254, 0.451, 0.266,
    0.729, 0.339, 0.254, 0.248, 0.378, 0.254, 0.485, 0.290, 0.248, 0.278,
    0.266, 0.315, 0.272, 0.379, 0.278, 0.241, 0.266, 0.309, 0.321, 0.260,
    0.254,
    0.248, 0.276, 0.272, 0.254, 0.260, 0.272, 0.302, 0.284, 0.260, 0.248,
    0.266, 0.546, 0.656, 0.552, 0.827, 0.388, 0.878, 0.302, 0.467, 0.290,
    0.290, 0.248, 0.248, 0.400, 1.200, 1.100, 0.491, 0.778, 0.278, 0.473,
    0.272, 0.585, 0.272, 0.339, 1.200, 0.278, 0.327, 0.717, 0.266, 0.278,
    1.200, 0.290, 0.278, 0.290, 0.638, 0.278, 0.388, 1.200, 0.284, 0.278,
    0.248, 0.351, 0.506, 0.278, 0.766, 0.278, 0.248, 0.266, 0.248, 0.388,
    0.254, 0.489, 0.266, 0.248, 0.248, 0.278, 0.254, 0.339, 0.278, 0.370,
    0.302, 0.376, 0.510, 0.644, 0.735, 0.717, 0.607, 0.400, 0.644, 0.796,
    0.778, 0.705, 0.632, 0.546, 0.473, 0.400, 0.339, 0.345, 0.327, 0.333,
    0.272, 0.284, 0.272,
    0.278, 0.296, 0.284, 0.296, 1.200, 0.790, 1.200, 0.510, 1.200, 0.839,
    0.278, 0.626, 0.302, 0.278, 0.345, 0.278, 0.302, 1.200, 0.632, 1.200,
    0.839, 0.278, 0.559, 0.278, 0.278, 0.772, 0.302, 0.485, 1.200, 1.200,
    0.363, 0.485, 1.200, 0.363, 0.449, 1.200, 0.376, 0.351, 0.790, 0.315,
    0.388, 0.302, 1.200, 1.200, 0.388, 0.351, 0.376, 0.363, 0.741, 0.402,
    0.400, 1.200, 0.412, 0.315, 0.302, 0.339, 0.388, 0.534, 0.351, 0.687,
    0.339, 0.351, 0.315, 0.302, 0.327, 0.479, 0.339, 0.540, 0.302, 0.302,
    0.309, 0.315, 0.327, 0.455, 0.400, 0.479, 0.327, 0.321, 0.321, 0.315,
    0.339, 0.449, 0.376, 0.461, 0.351, 0.339, 0.394, 0.339, 0.443, 0.351,
    0.339, 0.455, 0.424, 0.479, 0.388, 0.388,
]

zero_wave = [4749, 9300]
zero_flux = [0.0, 0.0]

x_ticks = [5000, 6000, 7000, 8000, 9000]
y_ticks = [-0.75, -0.5, -0.25, 0.0, 0.25, 0.5, 0.75]

title_text = "Spectrum of object 29533 in candels-cdfs-24"
x_title = "Wavelength"
y_title = "10\u207b\u00b9\u2078 erg s\u207b\u00b9 cm\u207b\u00b2 \u00c5\u207b\u00b9"

FONT = "DejaVu Sans"
W, H = 2324, 693

spec_df = pd.DataFrame({"wave": spec_wave, "flux": spec_flux})
contam_df = pd.DataFrame({"wave": contam_wave, "flux": contam_flux})
zero_df = pd.DataFrame({"wave": zero_wave, "flux": zero_flux})

x_scale = alt.Scale(domain=[4749, 9300], nice=False, zero=False)
y_scale = alt.Scale(domain=[-0.975, 0.89], nice=False, zero=False)

x_axis = alt.Axis(
    values=x_ticks, format="d", grid=False, domain=False,
    labelFont=FONT, labelFontSize=27, labelColor="black",
    labelBaseline="alphabetic", labelPadding=33,
    tickSize=14, tickWidth=2.8, tickColor="black",
    title=x_title, titleFont=FONT, titleFontSize=33, titleFontWeight="normal",
    titleColor="black", titleX=W / 2, titleY=85, titleAlign="center",
    titleBaseline="alphabetic",
)
y_axis = alt.Axis(
    values=y_ticks, format=".2f", grid=False, domain=False,
    labelFont=FONT, labelFontSize=34.5, labelColor="black", labelPadding=19,
    tickSize=14, tickWidth=2.8, tickColor="black",
    title=y_title, titleFont=FONT, titleFontSize=47, titleFontWeight="normal",
    titleColor="black", titleX=-173, titleY=H / 2, titleAngle=270,
    titleAlign="center", titleBaseline="alphabetic",
)

zero_line = alt.Chart(zero_df).mark_line(color="#0000ff", strokeWidth=7, clip=True).encode(
    x=alt.X("wave:Q", scale=x_scale, axis=x_axis),
    y=alt.Y("flux:Q", scale=y_scale, axis=y_axis),
)
spec_line = alt.Chart(spec_df).mark_line(color="black", strokeWidth=4.6, clip=True).encode(
    x=alt.X("wave:Q", scale=x_scale),
    y=alt.Y("flux:Q", scale=y_scale),
    order="wave:Q",
)
contam_line = alt.Chart(contam_df).mark_line(color="#008000", strokeWidth=1.8, clip=True).encode(
    x=alt.X("wave:Q", scale=x_scale),
    y=alt.Y("flux:Q", scale=y_scale),
    order="wave:Q",
)

chart = alt.layer(zero_line, spec_line, contam_line).properties(
    width=W,
    height=H,
    title=alt.TitleParams(
        text=title_text, font=FONT, fontSize=50, fontWeight="normal", color="black",
        anchor="middle", frame="group", baseline="alphabetic", offset=-25,
    ),
    autosize=alt.AutoSizeParams(type="none"),
    padding={"left": 367, "top": 99, "right": 250, "bottom": 100},
    background="white",
).configure_view(
    stroke="black", strokeWidth=2.8,
)

chart.save("out.html", embed_options={"renderer": "svg", "actions": False})
